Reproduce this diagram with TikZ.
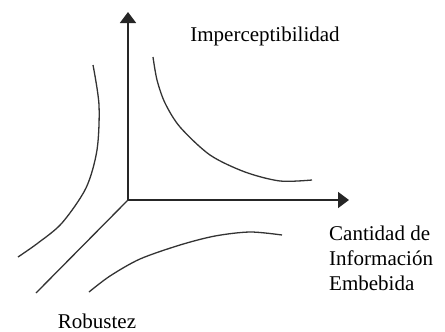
\documentclass[tikz,border=0pt]{standalone}
\usepackage{fontspec}
\setmainfont{Liberation Serif}
\usetikzlibrary{arrows.meta}
\begin{document}
\begin{tikzpicture}[x=1pt,y=-1pt,
  axis/.style={draw=black!85, line width=1.7pt},
  curve/.style={draw=black!80, line width=1.3pt, smooth},
  lbl/.style={font=\fontsize{21}{25}\selectfont, inner sep=0pt, text=black}]
\useasboundingbox (0,0) rectangle (445,332);
\coordinate (O) at (128,200);
\coordinate (Ytip) at (128,12);
\coordinate (Xtip) at (349,200);
\coordinate (Dend) at (36,293);
\draw[axis, -{Triangle[length=11pt,width=16pt]}] (O) -- (Ytip);
\draw[axis, -{Triangle[length=11pt,width=16pt]}] (O) -- (Xtip);
\draw[draw=black!80, line width=1.3pt] (O) -- (Dend);
% curves
\draw[curve] plot coordinates {(153,57) (157,80) (165,103) (180,127) (210,155) (245,172) (280,181) (312,180)};
\draw[curve] plot coordinates {(93,65) (99,105) (97,150) (86,188) (62,223) (38,243) (18,257)};
\draw[curve] plot coordinates {(89,292) (110,276) (140,259) (180,245) (215,236) (250,232) (282,235)};
% labels
\node[lbl] (imp) at (265,36) {Imperceptibilidad};
\node[lbl, align=left, anchor=north west] (cant) at (329,226) {Cantidad de\\Información\\Embebida};
\node[lbl] (rob) at (97,321) {Robustez};
\end{tikzpicture}
\end{document}
